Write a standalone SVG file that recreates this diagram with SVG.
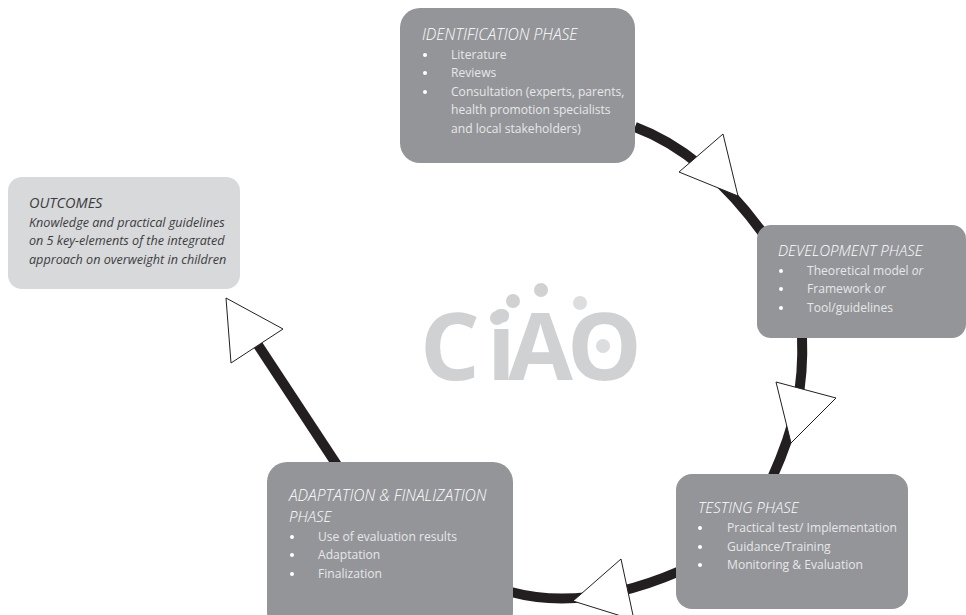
<svg xmlns="http://www.w3.org/2000/svg" width="966" height="615" viewBox="0 0 966 615">
<style>
text{font-family:"Open Sans","Noto Sans","Liberation Sans",sans-serif}
.box{fill:#939598}
.light{fill:#d8d9db}
.t{font-size:15px;font-style:italic;fill:#fff;font-weight:300}
.tw{font-size:15.6px}
.l{font-size:12.1px;fill:#e6e7e8}
.b{fill:#fff}
.o{font-size:12.6px;font-style:italic;fill:#3c3c3e}
.ot{font-size:14.5px;font-style:italic;fill:#3c3c3e}
.wire{fill:none;stroke:#231f20;stroke-width:10}
.head{fill:#fff;stroke:#231f20;stroke-width:1}
.logo{font-size:94px;font-weight:700;fill:#d0d1d2}
.dot{fill:#d0d1d2}
.dot2{fill:#dcddde}
</style>
<rect width="966" height="615" fill="#fff"/>
<g id="connectors">
<path class="wire" d="M635 127Q705 153 765 236"/>
<path class="wire" d="M802 336C804 385 796 425 772 478"/>
<path class="wire" d="M680 571Q585 612 511 592"/>
<path class="wire" d="M258 345L337 465"/>
<polygon class="head" points="723,134 679,172 738,196"/>
<polygon class="head" points="776,382 836,398 791,443"/>
<polygon class="head" points="621,559 573,601 634,620"/>
<polygon class="head" points="226,298 283,329 231,363"/>
</g>
<g id="logo">
<text class="logo" x="420 487 508 567" y="380">CiAO</text>
<circle class="dot" cx="541" cy="290" r="7"/>
<circle class="dot" cx="513" cy="301" r="7"/>
<circle class="dot2" cx="580" cy="303" r="7"/>
<circle class="dot" cx="497" cy="318" r="7"/>
<circle class="dot2" cx="603" cy="346" r="7"/>
</g>
<g id="identification">
<rect class="box" x="400" y="8" width="235" height="155" rx="20"/>
<text class="t tw" x="422" y="40">IDENTIFICATION PHASE</text>
<circle class="b" cx="425" cy="55" r="2"/><text class="l" x="451" y="59">Literature</text>
<circle class="b" cx="425" cy="73" r="2"/><text class="l" x="451" y="77">Reviews</text>
<circle class="b" cx="425" cy="92" r="2"/><text class="l" x="451" y="96">Consultation (experts, parents,</text>
<text class="l" x="451" y="114">health promotion specialists</text>
<text class="l" x="451" y="133">and local stakeholders)</text>
</g>
<g id="development">
<rect class="box" x="757" y="225" width="209" height="113" rx="14"/>
<text class="t" x="778" y="256">DEVELOPMENT PHASE</text>
<circle class="b" cx="781" cy="271" r="2"/><text class="l" x="807" y="275">Theoretical model <tspan font-style="italic">or</tspan></text>
<circle class="b" cx="781" cy="289" r="2"/><text class="l" x="807" y="293">Framework <tspan font-style="italic">or</tspan></text>
<circle class="b" cx="781" cy="308" r="2"/><text class="l" x="807" y="312">Tool/guidelines</text>
</g>
<g id="testing">
<rect class="box" x="676" y="474" width="232" height="135" rx="16"/>
<text class="t" x="698" y="513">TESTING PHASE</text>
<circle class="b" cx="700" cy="528" r="2"/><text class="l" x="727" y="532">Practical test/ Implementation</text>
<circle class="b" cx="700" cy="547" r="2"/><text class="l" x="727" y="551">Guidance/Training</text>
<circle class="b" cx="700" cy="565" r="2"/><text class="l" x="727" y="569">Monitoring &amp; Evaluation</text>
</g>
<g id="adaptation">
<rect class="box" x="267" y="462" width="246" height="170" rx="20"/>
<text class="t tw" x="289" y="501">ADAPTATION &amp; FINALIZATION</text>
<text class="t" x="289" y="522">PHASE</text>
<circle class="b" cx="292" cy="537" r="2"/><text class="l" x="318" y="541">Use of evaluation results</text>
<circle class="b" cx="292" cy="555" r="2"/><text class="l" x="318" y="559">Adaptation</text>
<circle class="b" cx="292" cy="574" r="2"/><text class="l" x="318" y="578">Finalization</text>
</g>
<g id="outcomes">
<rect class="light" x="8" y="177" width="232" height="112" rx="14"/>
<text class="ot" x="29" y="208">OUTCOMES</text>
<text class="o" x="29" y="227">Knowledge and practical guidelines</text>
<text class="o" x="29" y="245">on 5 key-elements of the integrated</text>
<text class="o" x="29" y="264">approach on overweight in children</text>
</g>
</svg>
